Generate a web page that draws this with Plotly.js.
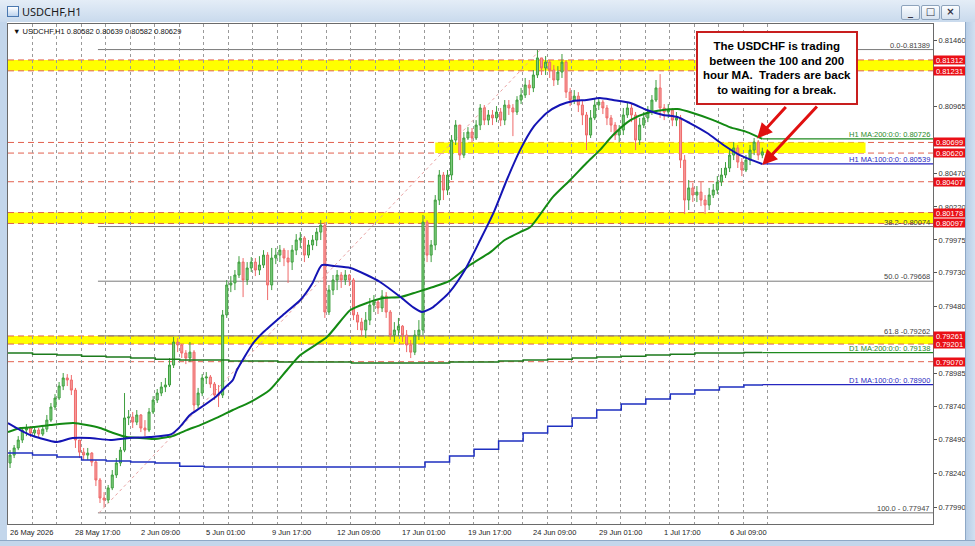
<!DOCTYPE html>
<html><head><meta charset="utf-8">
<script src="https://cdn.plot.ly/plotly-3.0.1.min.js"></script>
<style>
body{margin:0;width:975px;height:546px;background:#c3d6eb;position:relative;overflow:hidden;}
#titlebar{position:absolute;left:0;top:0;width:975px;height:22px;background:linear-gradient(#e4edf7,#c9daed);}
#titlebar .txt{position:absolute;left:22px;top:4px;font:11px "Noto Sans",sans-serif;color:#1a1a1a;}
#icon{position:absolute;left:7px;top:6px;width:10px;height:9px;border:1px solid #4a78b0;background:linear-gradient(#ffffff,#bcd3ee);}
.btn{position:absolute;top:5px;width:17px;height:13px;border:1px solid #8da3bc;border-radius:2px;background:linear-gradient(#fbfdff,#d6e2ef);font:bold 10px "DejaVu Sans",sans-serif;color:#334;text-align:center;line-height:12px;}
#chart{position:absolute;left:7px;top:22px;width:968px;height:518px;background:#fff;}
#rborder{position:absolute;left:965px;top:22px;width:10px;height:524px;background:linear-gradient(90deg,#b7cde6,#d3e2f2);border-left:1px solid #8ea8c6;}
#bborder{position:absolute;left:0;top:540px;width:975px;height:6px;background:#c3d6eb;border-top:1px solid #8ea8c6;}
</style></head>
<body>
<div id="titlebar"><div id="icon"></div><span class="txt">USDCHF,H1</span>
<div class="btn" style="left:901px">_</div><div class="btn" style="left:921px">□</div><div class="btn" style="left:941px">×</div></div>
<div id="chart"></div>
<div id="rborder"></div>
<div id="bborder"></div>
<script>
// ---------- data (4-hour candles) ----------
const BAR_HOURS = 4;
const open = [0.78317,0.78376,0.78429,0.78488,0.78562,0.78577,0.78540,0.78562,0.78532,0.78569,
0.78636,0.78733,0.78800,0.78889,0.78949,0.78934,0.78859,0.78488,0.78398,0.78376,
0.78391,0.78324,0.78191,0.78057,0.78042,0.78132,0.78228,0.78317,0.78413,0.78652,
0.78659,0.78621,0.78674,0.78577,0.78562,0.78696,0.78785,0.78837,0.78882,0.78897,
0.79045,0.79216,0.79194,0.79134,0.79097,0.79141,0.78748,0.78837,0.78949,0.78956,
0.78904,0.78822,0.78822,0.79417,0.79640,0.79655,0.79714,0.79810,0.79677,0.79766,
0.79810,0.79751,0.79788,0.79862,0.79640,0.79840,0.79862,0.79899,0.79840,0.79810,
0.79899,0.79974,0.79989,0.79862,0.79937,0.79974,0.80033,0.80085,0.79439,0.79602,
0.79677,0.79714,0.79677,0.79714,0.79677,0.79417,0.79364,0.79305,0.79379,0.79491,
0.79513,0.79469,0.79557,0.79439,0.79268,0.79305,0.79334,0.79268,0.79194,0.79141,
0.79268,0.79305,0.80107,0.79862,0.79937,0.80271,0.80457,0.80345,0.80457,0.80717,
0.80828,0.80605,0.80732,0.80776,0.80732,0.80828,0.80955,0.80865,0.80903,0.80881,
0.80925,0.80865,0.80977,0.80955,0.80925,0.81014,0.81051,0.81126,0.81104,0.81200,
0.81327,0.81252,0.81296,0.81237,0.81163,0.81222,0.81296,0.81073,0.81014,0.81043,
0.80977,0.80903,0.80754,0.80881,0.80977,0.80999,0.80955,0.80881,0.80828,0.80754,
0.80791,0.80903,0.80955,0.80903,0.80717,0.80828,0.80881,0.80925,0.81014,0.81104,
0.80955,0.80925,0.80940,0.80865,0.80881,0.80568,0.80271,0.80361,0.80308,0.80330,
0.80271,0.80234,0.80308,0.80345,0.80405,0.80457,0.80509,0.80605,0.80658,0.80553,
0.80494,0.80568,0.80642,0.80702,0.80605];
const high = [0.78413,0.78451,0.78517,0.78584,0.78606,0.78591,0.78591,0.78577,0.78599,0.78674,
0.78763,0.78829,0.78919,0.78986,0.78978,0.78971,0.78875,0.78488,0.78429,0.78429,
0.78398,0.78339,0.78206,0.78101,0.78154,0.78265,0.78354,0.78436,0.78837,0.78711,
0.78696,0.78711,0.78681,0.78636,0.78726,0.78814,0.78867,0.78919,0.78949,0.79097,
0.79253,0.79246,0.79201,0.79156,0.79216,0.79156,0.78875,0.78978,0.78993,0.78971,
0.78919,0.78897,0.79454,0.79677,0.79706,0.79751,0.79854,0.79840,0.79810,0.79847,
0.79840,0.79854,0.79899,0.79884,0.79915,0.79915,0.79937,0.79915,0.79899,0.79937,
0.80018,0.80033,0.80003,0.79974,0.80011,0.80063,0.80122,0.80107,0.79640,0.79714,
0.79751,0.79736,0.79751,0.79721,0.79692,0.79439,0.79395,0.79439,0.79543,0.79565,
0.79528,0.79602,0.79587,0.79454,0.79364,0.79395,0.79342,0.79305,0.79231,0.79305,
0.79379,0.80160,0.80122,0.79974,0.80308,0.80494,0.80479,0.80494,0.80754,0.80865,
0.80828,0.80776,0.80813,0.80806,0.80865,0.80984,0.80977,0.80940,0.80940,0.80969,
0.80955,0.81014,0.81014,0.80984,0.81043,0.81104,0.81178,0.81163,0.81237,0.81386,
0.81327,0.81341,0.81311,0.81274,0.81266,0.81356,0.81311,0.81104,0.81088,0.81073,
0.81014,0.80925,0.80940,0.81029,0.81036,0.81014,0.80977,0.80903,0.80850,0.80828,
0.80955,0.80999,0.80984,0.80925,0.80881,0.80925,0.80969,0.81051,0.81163,0.81207,
0.80984,0.80984,0.80955,0.80925,0.80903,0.80605,0.80420,0.80398,0.80375,0.80405,
0.80308,0.80361,0.80390,0.80449,0.80509,0.80553,0.80642,0.80702,0.80680,0.80583,
0.80605,0.80680,0.80732,0.80717,0.80660];
const low = [0.78280,0.78354,0.78413,0.78466,0.78517,0.78510,0.78517,0.78503,0.78517,0.78547,
0.78621,0.78711,0.78785,0.78859,0.78889,0.78822,0.78429,0.78354,0.78339,0.78339,
0.78294,0.78146,0.78020,0.77990,0.78020,0.78116,0.78206,0.78294,0.78398,0.78599,
0.78577,0.78599,0.78547,0.78517,0.78547,0.78681,0.78763,0.78814,0.78844,0.78882,
0.79023,0.79141,0.79097,0.79052,0.79067,0.78696,0.78711,0.78814,0.78904,0.78875,
0.78785,0.78733,0.78800,0.79395,0.79587,0.79602,0.79692,0.79550,0.79640,0.79736,
0.79706,0.79714,0.79766,0.79528,0.79602,0.79795,0.79810,0.79780,0.79655,0.79751,
0.79862,0.79915,0.79810,0.79840,0.79899,0.79929,0.79974,0.79395,0.79417,0.79565,
0.79602,0.79618,0.79640,0.79632,0.79379,0.79305,0.79260,0.79246,0.79342,0.79439,
0.79424,0.79439,0.79395,0.79231,0.79216,0.79260,0.79216,0.79141,0.79097,0.79119,
0.79231,0.79268,0.79810,0.79810,0.79899,0.80234,0.80271,0.80308,0.80420,0.80680,
0.80568,0.80583,0.80717,0.80702,0.80717,0.80791,0.80828,0.80828,0.80828,0.80850,
0.80820,0.80828,0.80903,0.80746,0.80903,0.80984,0.81029,0.81051,0.81073,0.81178,
0.81200,0.81200,0.81178,0.81118,0.81126,0.81178,0.81029,0.80969,0.80984,0.80925,
0.80828,0.80642,0.80732,0.80865,0.80940,0.80910,0.80828,0.80776,0.80717,0.80702,
0.80754,0.80881,0.80850,0.80642,0.80680,0.80806,0.80850,0.80903,0.80999,0.80881,
0.80865,0.80881,0.80820,0.80820,0.80509,0.80167,0.80197,0.80256,0.80256,0.80226,
0.80167,0.80197,0.80286,0.80315,0.80375,0.80435,0.80479,0.80568,0.80509,0.80449,
0.80479,0.80531,0.80605,0.80568,0.80582];
const close = [0.78376,0.78429,0.78488,0.78562,0.78577,0.78540,0.78562,0.78532,0.78569,0.78636,
0.78733,0.78800,0.78889,0.78949,0.78934,0.78859,0.78488,0.78398,0.78376,0.78391,
0.78324,0.78191,0.78057,0.78042,0.78132,0.78228,0.78317,0.78413,0.78652,0.78659,
0.78621,0.78674,0.78577,0.78562,0.78696,0.78785,0.78837,0.78882,0.78897,0.79045,
0.79216,0.79194,0.79134,0.79097,0.79141,0.78748,0.78837,0.78949,0.78956,0.78904,
0.78822,0.78822,0.79417,0.79640,0.79655,0.79714,0.79810,0.79677,0.79766,0.79810,
0.79751,0.79788,0.79862,0.79640,0.79840,0.79862,0.79899,0.79840,0.79810,0.79899,
0.79974,0.79989,0.79862,0.79937,0.79974,0.80033,0.80085,0.79439,0.79602,0.79677,
0.79714,0.79677,0.79714,0.79677,0.79417,0.79364,0.79305,0.79379,0.79491,0.79513,
0.79469,0.79557,0.79439,0.79268,0.79305,0.79334,0.79268,0.79194,0.79141,0.79268,
0.79305,0.80107,0.79862,0.79937,0.80271,0.80457,0.80345,0.80457,0.80717,0.80828,
0.80605,0.80732,0.80776,0.80732,0.80828,0.80955,0.80865,0.80903,0.80881,0.80925,
0.80865,0.80977,0.80955,0.80925,0.81014,0.81051,0.81126,0.81104,0.81200,0.81327,
0.81252,0.81296,0.81237,0.81163,0.81222,0.81296,0.81073,0.81014,0.81043,0.80977,
0.80903,0.80754,0.80881,0.80977,0.80999,0.80955,0.80881,0.80828,0.80754,0.80791,
0.80903,0.80955,0.80903,0.80717,0.80828,0.80881,0.80925,0.81014,0.81104,0.80955,
0.80925,0.80940,0.80865,0.80881,0.80568,0.80271,0.80361,0.80308,0.80330,0.80271,
0.80234,0.80308,0.80345,0.80405,0.80457,0.80509,0.80605,0.80658,0.80553,0.80494,
0.80568,0.80642,0.80702,0.80605,0.80629];

// H1 moving averages (bar = hours since chart start)
const ma100Bar = [0,12,22,31,48,63,80,100,119,139,160,168,178,188,204,212,220,224,240,250,269,286,298,307,320,335,351,364,384,396,405,416,432,447,462,475,488,501,514,527,540,553,566,579,592,609,625,641,655,667,684,700,716,738];
const ma100 = [0.78614,0.78562,0.78525,0.78503,0.78473,0.78503,0.78503,0.78488,0.78503,0.78510,0.78532,0.78584,0.78674,0.78726,0.78814,0.78875,0.78934,0.79008,0.79209,0.79290,0.79417,0.79528,0.79655,0.79788,0.79780,0.79766,0.79714,0.79662,0.79550,0.79476,0.79439,0.79476,0.79587,0.79751,0.79974,0.80175,0.80420,0.80642,0.80813,0.80918,0.80977,0.81007,0.81014,0.81029,0.81014,0.80992,0.80940,0.80903,0.80888,0.80843,0.80769,0.80680,0.80605,0.80539];
const ma200Bar = [0,12,25,41,64,77,90,103,116,129,142,156,161,175,188,204,220,237,256,273,286,312,335,351,367,384,400,416,432,452,472,486,501,511,533,550,566,579,592,609,625,641,655,670,690,706,723,738];
const ma200 = [0.78547,0.78577,0.78584,0.78599,0.78614,0.78599,0.78577,0.78540,0.78510,0.78503,0.78495,0.78510,0.78517,0.78562,0.78599,0.78652,0.78711,0.78770,0.78859,0.79008,0.79119,0.79253,0.79454,0.79506,0.79543,0.79550,0.79587,0.79625,0.79670,0.79788,0.79884,0.79974,0.80033,0.80070,0.80293,0.80420,0.80546,0.80642,0.80754,0.80865,0.80918,0.80940,0.80947,0.80918,0.80865,0.80813,0.80776,0.80726];

// D1 moving averages (daily steps)
const dayBar = [0,24,48,72,96,120,144,168,192,216,240,264,288,312,336,360,384,408,432,456,480,504,528,552,576,600,624,648,672,696,720,738];
const d1Ma200 = [0.79134,0.79126,0.79119,0.79111,0.79104,0.79097,0.79089,0.79082,0.79082,0.79075,0.79075,0.79067,0.79067,0.79067,0.79060,0.79060,0.79060,0.79060,0.79067,0.79067,0.79075,0.79082,0.79089,0.79097,0.79104,0.79111,0.79119,0.79126,0.79134,0.79134,0.79138,0.79138];
const d1Ma100 = [0.78391,0.78376,0.78362,0.78339,0.78332,0.78324,0.78317,0.78294,0.78287,0.78287,0.78287,0.78287,0.78287,0.78287,0.78287,0.78287,0.78287,0.78324,0.78369,0.78420,0.78481,0.78540,0.78591,0.78652,0.78711,0.78755,0.78792,0.78829,0.78859,0.78882,0.78897,0.78900];

// axis labels
const timeLabels = ["26 May 2026","28 May 17:00","2 Jun 09:00","5 Jun 01:00","9 Jun 17:00","12 Jun 09:00","17 Jun 01:00","19 Jun 17:00","24 Jun 09:00","29 Jun 01:00","1 Jul 17:00","6 Jul 09:00"];
const timeLabelBar = [0,64,128,192,256,320,384,448,512,576,640,704];
const priceTicks = [0.81460,0.80965,0.80470,0.80220,0.79975,0.79730,0.79480,0.78985,0.78740,0.78490,0.78240,0.77990];

// horizontal levels
const redLevels = [0.81312,0.81231,0.80699,0.80620,0.80407,0.80178,0.80097,0.79261,0.79201,0.79070];
const bandLow  = [0.81231,0.80620,0.80097,0.79201];
const bandHigh = [0.81312,0.80699,0.80178,0.79261];
const fibLevel = [0.81389,0.80074,0.79668,0.79262,0.77947];
const fibText  = ["0.0-0.81389","38.2- 0.80074","50.0 -0.79668","61.8 -0.79262","100.0 - 0.77947"];
const fibSwingBar = [89, 521];   // swing low bar, swing high bar

// ---------- chart ----------
const X_END = 905;
const FONT = '"Liberation Sans", Arial, sans-serif';
const FS = 7.5;
const candleBar = open.map((_, i) => i * BAR_HOURS + 2);
const gridBar = dayBar.slice(1, 31).map(b => b - 0.5).concat([743.5]);

const traces = [
  {type:'scatter', mode:'lines', x:dayBar, y:d1Ma200, line:{color:'#1c7a1c', width:1.5, shape:'hv'}, hoverinfo:'skip'},
  {type:'scatter', mode:'lines', x:dayBar, y:d1Ma100, line:{color:'#1e2fc0', width:1.5, shape:'hv'}, hoverinfo:'skip'},
  {type:'candlestick', x:candleBar, open:open, high:high, low:low, close:close,
   increasing:{line:{color:'#3f9e3f', width:1}, fillcolor:'#7fcf7f'},
   decreasing:{line:{color:'#ef6a6a', width:1}, fillcolor:'#f59c9c'},
   whiskerwidth:0, hoverinfo:'skip'},
  {type:'scatter', mode:'lines', x:ma200Bar, y:ma200, line:{color:'#138a13', width:2, shape:'spline', smoothing:0.6}, hoverinfo:'skip'},
  {type:'scatter', mode:'lines', x:ma100Bar, y:ma100, line:{color:'#1414b4', width:2, shape:'spline', smoothing:0.6}, hoverinfo:'skip'}
];

const shapes = [];
bandLow.forEach((lo, k) => {
  const partial = (k === 1);
  shapes.push({type:'rect', layer:'below', xref: partial ? 'x' : 'paper', x0: partial ? 418 : 0, x1: partial ? 839 : 1,
    yref:'y', y0:lo, y1:bandHigh[k], fillcolor:'#ffff00', line:{width:0}});
});
redLevels.forEach(v => shapes.push({type:'line', layer:'below', xref:'paper', x0:0, x1:1, yref:'y', y0:v, y1:v,
  line:{color:'#e2604e', width:1, dash:'6px,4px'}}));
fibLevel.forEach(v => shapes.push({type:'line', layer:'below', xref:'x', x0:fibSwingBar[0]-1, x1:X_END, yref:'y', y0:v, y1:v,
  line:{color:'#7a7a7a', width:1}}));
shapes.push({type:'line', layer:'below', xref:'x', yref:'y', x0:fibSwingBar[0], y0:fibLevel[4], x1:fibSwingBar[1], y1:fibLevel[0],
  line:{color:'#e9a3a3', width:1, dash:'dot'}});
// MA price-lines to the right of the last bar
[[ma200[ma200.length-1],'#1f8a1f'],[ma100[ma100.length-1],'#2626c0'],[d1Ma200[d1Ma200.length-1],'#1f8a1f'],[d1Ma100[d1Ma100.length-1],'#2626c0']]
  .forEach(([v,c]) => shapes.push({type:'line', xref:'x', x0:738, x1:X_END, yref:'y', y0:v, y1:v, line:{color:c, width:1.2}}));

const ann = [];
// header
ann.push({xref:'paper', yref:'paper', x:0, y:1, xanchor:'left', yanchor:'top', xshift:3, yshift:-1, showarrow:false,
  text:'▼ USDCHF,H1 0.80582 0.80639 0.80582 0.80629', font:{family:FONT, size:FS, color:'#111'}});
// time labels
timeLabels.forEach((t, k) => ann.push({xref:'x', yref:'paper', x:timeLabelBar[k], y:0, xanchor:'left', yanchor:'top', yshift:-2,
  showarrow:false, text:t, font:{family:FONT, size:FS, color:'#222'}}));
// fib labels
fibLevel.forEach((v, k) => ann.push({xref:'paper', yref:'y', x:1, y:v, xanchor:'right', yanchor:'bottom', xshift:-1, yshift:-2,
  showarrow:false, text:fibText[k], font:{family:FONT, size:FS, color:'#444'}}));
// MA labels
[['H1 MA:200:0:0: 0.80726', ma200[ma200.length-1], '#2a8a2a'],
 ['H1 MA:100:0:0: 0.80539', ma100[ma100.length-1], '#2a2ac0'],
 ['D1 MA:200:0:0: 0.79138', d1Ma200[d1Ma200.length-1], '#2a8a2a'],
 ['D1 MA:100:0:0: 0.78900', d1Ma100[d1Ma100.length-1], '#2a2ac0']].forEach(([t, v, c]) =>
  ann.push({xref:'paper', yref:'y', x:1, y:v, xanchor:'right', yanchor:'bottom', xshift:-1, yshift:-2, showarrow:false,
    text:t, font:{family:FONT, size:FS, color:c}}));
// red level labels on the price scale
redLevels.forEach(v => ann.push({xref:'paper', yref:'y', x:1, y:v, xanchor:'left', yanchor:'middle', xshift:0, showarrow:false,
  text:v.toFixed(5), bgcolor:'#ea0f16', borderpad:0, width:31, height:8, font:{family:FONT, size:FS, color:'#fff'}}));
// comment box
ann.push({xref:'paper', yref:'paper', x:(777-8)/925, y:(524-68)/500, xanchor:'center', yanchor:'middle', showarrow:false,
  text:'The USDCHF is trading<br>between the 100 and 200<br>hour MA.  Traders are back<br>to waiting for a break.',
  align:'center', width:152, height:64, bgcolor:'#fff', bordercolor:'#c81e1e', borderwidth:2, borderpad:3,
  font:{family:FONT, size:11.5, color:'#000', weight:'bold'}});
// arrows
ann.push({xref:'x', yref:'y', x:733, y:0.80729, ax:30, ay:-33, showarrow:true, arrowhead:2, arrowsize:1, arrowwidth:3, arrowcolor:'#e01010', text:''});
ann.push({xref:'x', yref:'y', x:738, y:0.80531, ax:56, ay:-60, showarrow:true, arrowhead:2, arrowsize:1, arrowwidth:3, arrowcolor:'#e01010', text:''});

const layout = {
  width:968, height:518, margin:{l:1, r:42, t:2, b:16},
  paper_bgcolor:'#ffffff', plot_bgcolor:'#ffffff', showlegend:false,
  xaxis:{range:[0, X_END], tickmode:'array', tickvals:gridBar, showticklabels:false, ticks:'',
    showgrid:true, gridcolor:'#9a9a9a', griddash:'dot', gridwidth:1, zeroline:false,
    showline:true, mirror:true, linecolor:'#6a6a6a', linewidth:1, rangeslider:{visible:false}, fixedrange:true},
  yaxis:{range:[0.77864, 0.81579], side:'right', tickmode:'array', tickvals:priceTicks, ticktext:priceTicks.map(v => v.toFixed(5)),
    ticks:'outside', ticklen:3, tickcolor:'#555', showgrid:false, zeroline:false, showline:true, mirror:true,
    linecolor:'#6a6a6a', tickfont:{family:FONT, size:FS, color:'#333'}, fixedrange:true},
  shapes:shapes, annotations:ann, hovermode:false
};
Plotly.newPlot('chart', traces, layout, {staticPlot:true, displayModeBar:false});
</script>
</body></html>
